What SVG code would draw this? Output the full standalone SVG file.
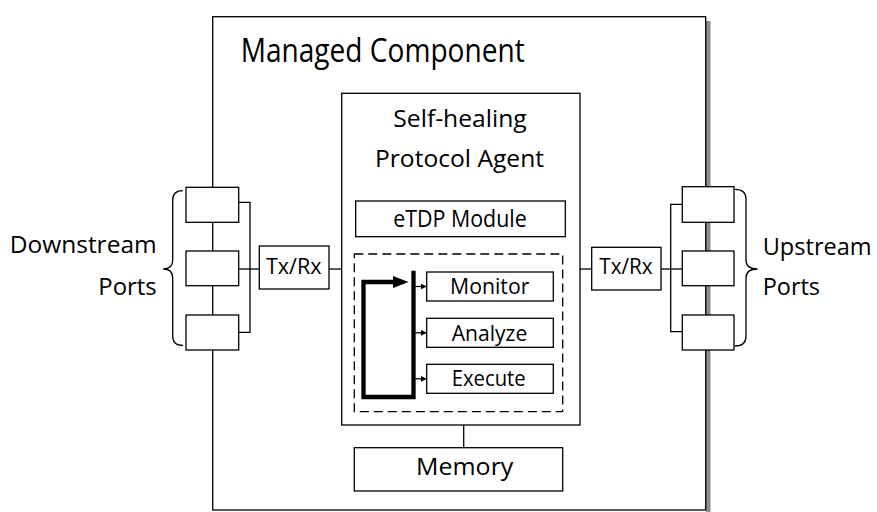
<svg xmlns="http://www.w3.org/2000/svg" width="877" height="512" viewBox="0 0 877 512">
  <style>
    .box { fill: #ffffff; stroke: #000000; stroke-width: 1.3; }
    .wire { fill: none; stroke: #000000; stroke-width: 1.3; }
    .dash { fill: none; stroke: #000000; stroke-width: 1.3; stroke-dasharray: 9 5; }
    .loop { fill: none; stroke: #000000; stroke-width: 4.3; stroke-linejoin: miter; stroke-linecap: square; }
    text { font-family: "Open Sans", "Liberation Sans", sans-serif; fill: #000000; }
    .mid { text-anchor: middle; }
  </style>
  <defs>
    <marker id="tip" markerWidth="6" markerHeight="6" refX="6" refY="3" orient="auto" markerUnits="userSpaceOnUse">
      <path d="M0,0 L6,3 L0,6 Z" fill="#000000"/>
    </marker>
  </defs>

  <!-- managed component frame with drop shadow -->
  <g id="managed-component">
    <rect x="706" y="21" width="4.5" height="491" fill="#8c8c8c"/>
    <rect class="box" x="212.7" y="16.7" width="493" height="493.3"/>
    <text x="240.7" y="61.7" font-size="32" textLength="284" lengthAdjust="spacingAndGlyphs">Managed Component</text>
  </g>

  <!-- downstream ports -->
  <g id="downstream-ports">
    <rect class="box" x="186" y="187.3" width="52.7" height="35"/>
    <rect class="box" x="186" y="251" width="52.7" height="34.7"/>
    <rect class="box" x="186" y="315" width="52.7" height="35"/>
    <path class="wire" d="M183,190.7 Q172.7,190.7 172.7,200 L172.7,260 Q172.7,269 163.3,269 Q172.7,269 172.7,278 L172.7,336 Q172.7,345.5 183,345.5"/>
    <text x="156.7" y="253.3" font-size="24" text-anchor="end" textLength="147" lengthAdjust="spacingAndGlyphs">Downstream</text>
    <text x="156.7" y="295" font-size="24" text-anchor="end" textLength="58.4" lengthAdjust="spacingAndGlyphs">Ports</text>
  </g>

  <!-- upstream ports -->
  <g id="upstream-ports">
    <rect class="box" x="682.3" y="186.7" width="51.7" height="35.6"/>
    <rect class="box" x="682.3" y="251" width="51.7" height="34.7"/>
    <rect class="box" x="682.3" y="315" width="51.7" height="35"/>
    <path class="wire" d="M735,189.3 Q746,189.3 746,199 L746,260 Q746,269 757.5,269 Q746,269 746,278 L746,336 Q746,346 735,346"/>
    <text x="762.7" y="255" font-size="24" textLength="109" lengthAdjust="spacingAndGlyphs">Upstream</text>
    <text x="762.7" y="295" font-size="24" textLength="57.3" lengthAdjust="spacingAndGlyphs">Ports</text>
  </g>

  <g id="txrx-down">
    <rect class="box" x="259.3" y="246" width="69.7" height="43"/>
    <text x="293.8" y="274.3" font-size="21.5" class="mid" textLength="55.7" lengthAdjust="spacingAndGlyphs">Tx/Rx</text>
  </g>

  <g id="txrx-up">
    <rect class="box" x="591.7" y="247.3" width="69.3" height="42.7"/>
    <text x="626" y="274.3" font-size="21.5" class="mid" textLength="53.4" lengthAdjust="spacingAndGlyphs">Tx/Rx</text>
  </g>

  <!-- self-healing protocol agent -->
  <g id="agent">
    <rect class="box" x="341.7" y="93.3" width="238.3" height="331.7"/>
    <text x="460" y="126.7" font-size="24" class="mid" textLength="133.4" lengthAdjust="spacingAndGlyphs">Self-healing</text>
    <text x="459.5" y="167.3" font-size="24" class="mid" textLength="169" lengthAdjust="spacingAndGlyphs">Protocol Agent</text>
  </g>

  <g id="etdp-module">
    <rect class="box" x="355.7" y="201" width="209.6" height="35.7"/>
    <text x="460" y="227.3" font-size="23" class="mid" textLength="133.4" lengthAdjust="spacingAndGlyphs">eTDP Module</text>
  </g>

  <g id="mape-group">
    <rect class="dash" x="354.3" y="254" width="208.4" height="157.7"/>
  </g>

  <g id="monitor">
    <rect class="box" x="426.7" y="272" width="126.6" height="29"/>
    <text x="489.7" y="294" font-size="21" class="mid" textLength="79.3" lengthAdjust="spacingAndGlyphs">Monitor</text>
  </g>

  <g id="analyze">
    <rect class="box" x="426.7" y="318.3" width="126.6" height="29"/>
    <text x="489.5" y="341" font-size="21" class="mid" textLength="75.6" lengthAdjust="spacingAndGlyphs">Analyze</text>
  </g>

  <g id="execute">
    <rect class="box" x="426.7" y="364.3" width="126.6" height="29"/>
    <text x="488.7" y="386" font-size="21" class="mid" textLength="74" lengthAdjust="spacingAndGlyphs">Execute</text>
  </g>

  <g id="memory">
    <rect class="box" x="354.3" y="447.7" width="208.4" height="43.3"/>
    <text x="464.7" y="475" font-size="23" class="mid" textLength="97.3" lengthAdjust="spacingAndGlyphs">Memory</text>
  </g>

  <!-- connectors, drawn last so box fills do not hide them -->
  <g id="connectors">
    <!-- downstream side -->
    <polyline class="wire" points="238.7,202.3 250,202.3 250,332.3 238.7,332.3"/>
    <line class="wire" x1="238.7" y1="269" x2="259.3" y2="269"/>
    <line class="wire" x1="329" y1="269" x2="341.7" y2="269"/>
    <!-- upstream side -->
    <line class="wire" x1="580" y1="269" x2="591.7" y2="269"/>
    <line class="wire" x1="661" y1="269" x2="682.3" y2="269"/>
    <polyline class="wire" points="682.3,204.3 670.7,204.3 670.7,331.7 682.3,331.7"/>
    <!-- agent to memory -->
    <line class="wire" x1="463.7" y1="425" x2="463.7" y2="447.7"/>
    <!-- control loop -->
    <polyline class="loop" points="394,282 363.5,282 363.5,397 413.5,397 413.5,273"/>
    <polygon points="393,276 408.5,282 393,288" fill="#000000"/>
    <line class="wire" x1="414" y1="286.5" x2="426.7" y2="286.5" stroke-width="1" marker-end="url(#tip)"/>
    <line class="wire" x1="414" y1="332.8" x2="426.7" y2="332.8" stroke-width="1" marker-end="url(#tip)"/>
    <line class="wire" x1="414" y1="378.8" x2="426.7" y2="378.8" stroke-width="1" marker-end="url(#tip)"/>
  </g>
</svg>
